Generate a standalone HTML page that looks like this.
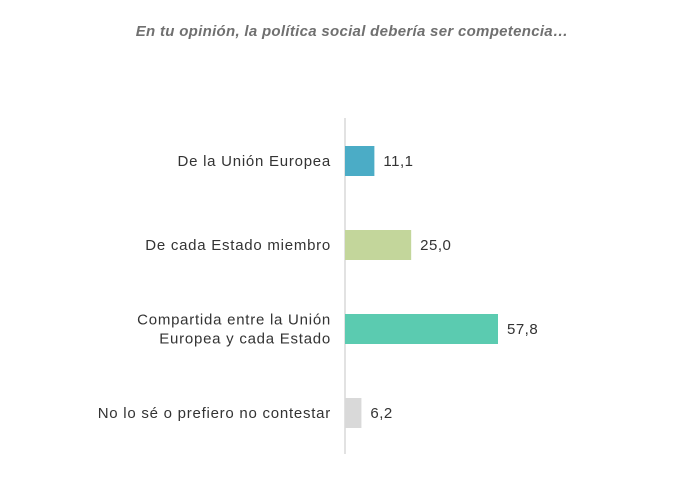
<!DOCTYPE html>
<html><head><meta charset="utf-8"><style>
html,body{margin:0;padding:0;background:#fff;}
svg{display:block;font-family:"Liberation Sans",sans-serif;}
</style></head><body>
<svg id="chart" width="693" height="478">
<text x="352" y="36" text-anchor="middle" font-size="15" letter-spacing="0.3" font-style="italic" font-weight="bold" fill="#707070">En tu opinión, la política social debería ser competencia…</text>
<line x1="345" y1="118" x2="345" y2="454" stroke="#d9d9d9" stroke-width="1.5"/>
</svg>
<script>
const categories=[["De la Unión Europea"],["De cada Estado miembro"],["Compartida entre la Unión","Europea y cada Estado"],["No lo sé o prefiero no contestar"]];
const values=[11.1,25.0,57.8,6.2];
const valueLabels=["11,1","25,0","57,8","6,2"];
const colors=["#4bacc6","#c3d69b","#5bcbb0","#d9d9d9"];
const svg=document.getElementById('chart');
const NS='http://www.w3.org/2000/svg';
const x0=345, pxPerUnit=153/57.8;
function xScale(v){return x0+v*pxPerUnit;}
function yBand(i){return 146+i*84;}
const bh=30;
values.forEach((v,i)=>{
  const r=document.createElementNS(NS,'rect');
  r.setAttribute('x',x0);r.setAttribute('y',yBand(i));
  r.setAttribute('width',xScale(v)-x0);r.setAttribute('height',bh);
  r.setAttribute('fill',colors[i]);
  
  
  svg.appendChild(r);
  const t=document.createElementNS(NS,'text');
  t.setAttribute('x',xScale(v)+9);t.setAttribute('y',yBand(i)+bh/2+5);
  t.setAttribute('font-size','15');t.setAttribute('letter-spacing','0.5');t.setAttribute('fill','#333');
  t.textContent=valueLabels[i];
  
  
  svg.appendChild(t);
  const lines=categories[i];
  const c=document.createElementNS(NS,'text');
  c.setAttribute('text-anchor','end');c.setAttribute('font-size','15');c.setAttribute('letter-spacing','0.75');c.setAttribute('fill','#333');
  
  
  const mid=yBand(i)+bh/2+5;
  lines.forEach((ln,j)=>{
    const s=document.createElementNS(NS,'tspan');
    s.setAttribute('x',331);
    s.setAttribute('y',mid+(j-(lines.length-1)/2)*19);
    s.textContent=ln;c.appendChild(s);
  });
  svg.appendChild(c);
});
</script>
</body></html>
